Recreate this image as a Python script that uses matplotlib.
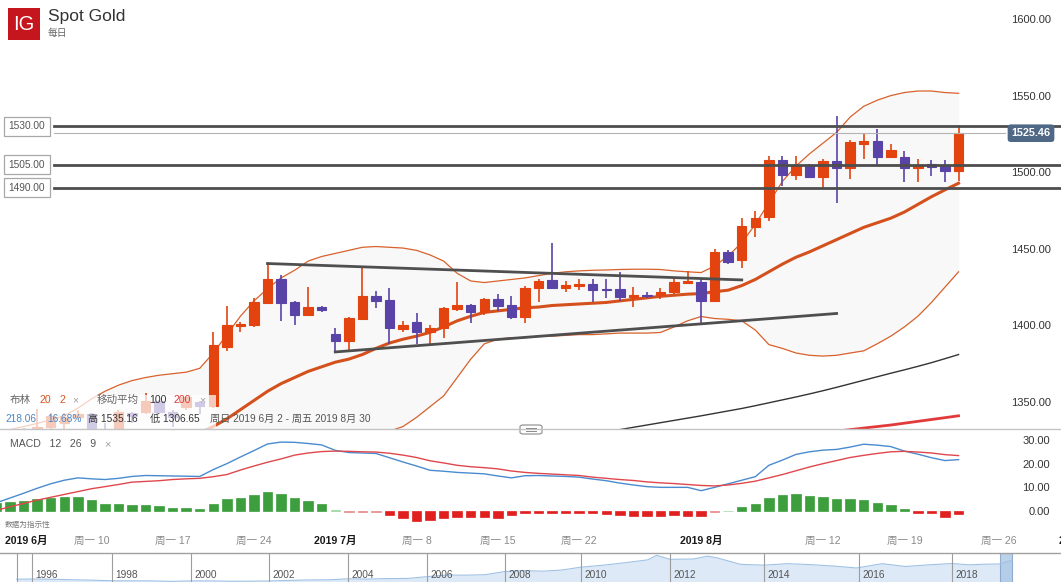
import numpy as np
import matplotlib
matplotlib.use('Agg')
import matplotlib.pyplot as plt
import matplotlib.transforms as mtransforms
from matplotlib.patches import Rectangle, FancyBboxPatch
from matplotlib.lines import Line2D

plt.rcParams['font.family'] = ['Liberation Sans', 'Noto Sans CJK SC', 'DejaVu Sans']

# ---- daily candles, 2 Jun 2019 (Sun) .. 23 Aug 2019 (Fri) ----
opens = [1305, 1306, 1327, 1325, 1334, 1336, 1340, 1342, 1329, 1327,
         1343, 1343.6, 1350.7, 1343.6, 1347, 1350, 1347.5, 1386, 1399.5, 1400.5,
         1414.5, 1430.6, 1415.4, 1406.7, 1412.3, 1394.3, 1390, 1404.5, 1418.9, 1416.4,
         1397.5, 1402, 1395.8, 1398.6, 1411, 1413.2, 1408.5, 1417.1, 1413.2, 1405.2,
         1424.7, 1429.5, 1424.7, 1425.8, 1427.3, 1424, 1423.6, 1418.6, 1419.7, 1420,
         1421.5, 1428, 1428.6, 1416, 1447.6, 1442.6, 1464.3, 1470.6, 1507.8, 1498,
         1505, 1497.2, 1507.2, 1503, 1518.7, 1520.4, 1510.2, 1510.2, 1503, 1505.2,
         1504.1, 1501.1]
highs = [1308, 1328, 1333, 1345.5, 1343, 1343, 1345, 1343, 1336, 1345,
         1343.5, 1356, 1351.5, 1345, 1354, 1351, 1396, 1412.5, 1402, 1418,
         1440.4, 1433, 1416, 1425.4, 1413, 1398.6, 1405.5, 1438.5, 1422.5, 1424.7,
         1403, 1408.4, 1400, 1412, 1428.4, 1414, 1418, 1420.4, 1418.9, 1425.5,
         1430, 1453.7, 1429, 1430.6, 1430.5, 1430.2, 1434.9, 1425.4, 1421.5, 1424.7,
         1431.2, 1435.6, 1431.2, 1449.7, 1449, 1470.4, 1474.7, 1510.6, 1510.6, 1510.6,
         1505.5, 1508.9, 1536.4, 1521, 1525.2, 1528.5, 1518.3, 1513.9, 1508.9, 1508,
         1507.8, 1530.7]
lows = [1303, 1305, 1320, 1322, 1328, 1331, 1338, 1323, 1322, 1326,
        1336, 1342, 1342, 1334, 1345, 1342, 1346, 1383, 1396, 1399,
        1414, 1403, 1400, 1406, 1409, 1382.7, 1384, 1404, 1411.7, 1387.7,
        1396, 1387.7, 1386.6, 1391.5, 1409.5, 1401.4, 1407, 1409.5, 1404.5, 1401.4,
        1415.6, 1424, 1421.5, 1423.2, 1415.4, 1417.6, 1416, 1412.3, 1417.6, 1417.1,
        1420.5, 1427.5, 1401.4, 1415, 1440, 1437.8, 1457.4, 1468, 1490.7, 1495,
        1495.9, 1488.9, 1480.2, 1495.4, 1508.9, 1504.6, 1510.2, 1493.7, 1493.7, 1497.6,
        1493.3, 1494.3]
closes = [1306, 1327, 1325, 1334, 1341, 1340, 1342, 1329, 1327, 1343.6,
          1341, 1351, 1343.6, 1340.4, 1353, 1347.5, 1387, 1400, 1401, 1415,
          1430.6, 1414.5, 1406.7, 1412.3, 1410, 1390, 1404.7, 1418.9, 1416, 1398,
          1400, 1395.4, 1398.6, 1411.2, 1413.2, 1408.8, 1417.5, 1412.7, 1405.2, 1424.7,
          1429, 1424.7, 1426.2, 1427.3, 1423.2, 1423.4, 1418.6, 1419.7, 1418.9, 1421.9,
          1428.6, 1429, 1416, 1447.6, 1441.5, 1464.6, 1470.4, 1507.8, 1498, 1505,
          1497.2, 1507.2, 1503, 1519.4, 1520.4, 1510.2, 1514.4, 1503, 1504.8, 1503.7,
          1501.1, 1525.46]

# Bollinger (20, 2)
boll_upper = [1330, 1332, 1334, 1336, 1338.5, 1341, 1346, 1352, 1357, 1361,
              1364, 1366, 1367.5, 1368.5, 1369.5, 1372, 1382, 1394, 1406, 1416,
              1424, 1431, 1436, 1442, 1445, 1447, 1449, 1451, 1451.5, 1451,
              1450.5, 1449, 1446, 1442, 1434, 1429, 1428, 1429, 1430, 1431,
              1432.5, 1434, 1435, 1435.6, 1436, 1436.2, 1436.5, 1436.7, 1436.7, 1436.5,
              1435.6, 1435, 1434.5, 1438.8, 1445.4, 1454, 1466, 1480, 1494, 1504,
              1512, 1519, 1526, 1536, 1543, 1547, 1550, 1552, 1553, 1553,
              1552, 1551.5]
boll_mid = [1292, 1293, 1294, 1295, 1297, 1299, 1302, 1305, 1308, 1311,
            1314, 1317, 1320, 1323, 1326, 1330, 1334, 1339, 1345, 1351,
            1357, 1362, 1366, 1370, 1373, 1376, 1378, 1381, 1385, 1388.5,
            1391, 1393, 1395.5, 1399, 1403, 1406, 1408.5, 1409.5, 1410.5, 1411.5,
            1412, 1413, 1413.5, 1414, 1414.5, 1415, 1416, 1417, 1418, 1419,
            1419.7, 1420.4, 1420.8, 1422, 1423, 1426, 1430, 1435, 1440, 1444.5,
            1448, 1452, 1456, 1460, 1464, 1467, 1470, 1474, 1479, 1484,
            1488.5, 1492.8]
boll_lower = [1270, 1272, 1274, 1276, 1277, 1279, 1281, 1283, 1285, 1288,
              1292, 1296, 1300, 1304, 1307, 1310, 1306, 1302, 1300, 1299,
              1300, 1303, 1307, 1311, 1316, 1320, 1324, 1327, 1329, 1331,
              1334, 1340, 1347, 1354, 1366, 1378, 1388, 1391, 1392, 1392,
              1393, 1393, 1393.5, 1394, 1394, 1394.5, 1395, 1395, 1395, 1395.4,
              1399, 1403, 1405.8, 1404.5, 1404, 1403, 1397, 1387.5, 1385, 1382,
              1380.5, 1380, 1380.5, 1382, 1383.4, 1388, 1393, 1399, 1406, 1415,
              1425, 1435]

# moving averages (only the part inside the price window)
ma100_start = 44
ma100 = [1329, 1330.5, 1332, 1333.5, 1335, 1336.5, 1338, 1339.5, 1341, 1342.6,
         1344.2, 1345.8, 1347.6, 1349.5, 1351.4, 1353.3, 1355.3, 1357.4, 1359.6, 1361.9,
         1364.2, 1366.5, 1368.8, 1371, 1373.3, 1375.7, 1378.3, 1381]
ma200_start = 60
ma200 = [1329, 1330, 1331, 1332, 1333, 1334, 1335, 1336.2, 1337.4, 1338.6, 1339.8, 1341]

# hand drawn trend lines (candle index, price)
trend_upper_x = [20, 55]
trend_upper_y = [1440.4, 1429.7]
trend_lower_x = [25, 62]
trend_lower_y = [1382.7, 1407.8]

levels = [1530, 1505, 1490]
last_price = 1525.46
price_ticks = [1350, 1400, 1450, 1500, 1550, 1600]

# MACD (12, 26, 9)
macd_line = [3.5, 5.5, 7.5, 9.6, 11.5, 13.0, 14.0, 13.6, 13.3, 13.8,
             14.6, 15.0, 14.9, 14.8, 14.7, 14.6, 17.5, 20.0, 22.8, 25.5,
             28.3, 29.1, 29.0, 28.5, 27.9, 25.6, 24.7, 24.5, 24.3, 22.5,
             20.7, 19.0, 17.2, 16.8, 16.3, 16.0, 15.7, 14.8, 14.0, 14.9,
             15.0, 14.8, 14.6, 14.3, 13.5, 12.8, 11.8, 11.0, 10.3, 10.0,
             10.0, 10.0, 8.6, 10.0, 11.5, 13.0, 14.5, 19.3, 21.5, 23.9,
             25.0, 25.7, 26.0, 27.0, 28.2, 27.8, 27.2, 25.3, 24.0, 22.5,
             21.3, 21.7]
signal_line = [0.3, 1.8, 3.2, 4.6, 5.8, 7.0, 8.2, 9.4, 10.3, 11.2,
               12.2, 12.5, 12.8, 13.3, 13.6, 13.8, 14.5, 15.4, 17.3, 19.0,
               20.6, 22.0, 23.6, 24.5, 25.1, 25.3, 25.2, 25.0, 24.9, 24.4,
               23.6, 22.6, 21.2, 20.3, 19.3, 18.7, 18.3, 17.8, 16.9, 16.3,
               15.9, 15.6, 15.3, 15.0, 14.3, 13.8, 13.3, 12.9, 12.3, 11.9,
               11.6, 11.2, 10.8, 10.6, 11.0, 11.7, 12.6, 14.0, 15.4, 17.0,
               18.6, 20.0, 21.3, 22.6, 23.5, 24.3, 25.0, 25.2, 24.9, 24.5,
               23.8, 23.4]
macd_hist = [3.3, 3.7, 4.4, 5.0, 5.7, 6.1, 5.9, 4.6, 3.1, 2.9,
             2.4, 2.7, 2.1, 1.4, 1.1, 0.9, 3.0, 4.9, 5.7, 6.9,
             7.9, 7.1, 5.3, 4.1, 2.9, 0.5, -0.6, -0.6, -0.6, -1.8,
             -2.9, -4.2, -3.6, -3.1, -2.7, -2.7, -2.7, -2.9, -1.7, -1.0,
             -0.7, -0.7, -0.7, -0.7, -0.8, -1.1, -1.7, -2.0, -2.1, -2.0,
             -1.7, -2.0, -2.1, -0.5, 0.2, 1.6, 3.0, 5.7, 6.6, 7.1,
             6.4, 6.0, 5.1, 5.1, 4.7, 3.6, 2.6, 0.7, -0.7, -0.7,
             -2.4, -1.4]
macd_ticks = [0, 10, 20, 30]

# date axis (candle index of each label)
date_labels = ['周一 10', '周一 17', '周一 24', '2019 7月', '周一 8', '周一 15',
               '周一 22', '2019 8月', '周一 12', '周一 19', '周一 26', '2019 9月']
date_pos = [7, 13, 19, 25, 31, 37, 43, 52, 61, 67, 74, 80]
first_date_label = '2019 6月'

# navigator: long history of the price
nav_years = [1995.75, 1996.0, 1996.5, 1997.0, 1997.5, 1998.0, 1998.5, 1999.0, 1999.5, 2000.0,
             2000.5, 2001.0, 2001.5, 2002.0, 2002.5, 2003.0, 2003.5, 2004.0, 2004.5, 2005.0,
             2005.5, 2006.0, 2006.5, 2007.0, 2007.5, 2008.0, 2008.5, 2009.0, 2009.5, 2010.0,
             2010.5, 2011.0, 2011.5, 2011.7, 2012.0, 2012.5, 2012.8, 2013.0, 2013.5, 2014.0,
             2014.5, 2015.0, 2015.5, 2015.95, 2016.5, 2017.0, 2017.5, 2018.0, 2018.5, 2019.0,
             2019.42, 2019.65]
nav_prices = [385, 400, 385, 355, 330, 295, 290, 285, 260, 285,
              285, 265, 270, 280, 315, 345, 350, 410, 395, 425,
              435, 540, 640, 630, 660, 850, 900, 870, 940, 1110,
              1230, 1380, 1550, 1820, 1580, 1600, 1770, 1670, 1280, 1230,
              1320, 1260, 1170, 1060, 1320, 1150, 1250, 1330, 1250, 1290,
              1300, 1525]
nav_label_years = [1996, 1998, 2000, 2002, 2004, 2006, 2008, 2010, 2012, 2014, 2016, 2018]

# ---- layout (pixels) ----
W, H = 1061, 582
STEP = 13.55      # px per candle
X0 = -3.5         # px of first candle
ORANGE = '#e2430f'
PURPLE = '#5a43a6'

fig = plt.figure(figsize=(W / 100, H / 100), dpi=100, facecolor='white')


def px_axes(x0, y0, x1, y1):
    return fig.add_axes([x0 / W, 1 - y1 / H, (x1 - x0) / W, (y1 - y0) / H])


xlim = ((0 - X0) / STEP, (W - X0) / STEP)

# ---------------- price panel ----------------
ax = px_axes(0, 0, W, 429)
ax.set_xlim(*xlim)
ax.set_ylim(1332.4, 1612.4)
for s in ax.spines.values():
    s.set_visible(False)
ax.set_xticks([])

idx = np.arange(len(opens))
o = np.array(opens)
c = np.array(closes)
cols = np.where(c >= o, ORANGE, PURPLE)

ax.fill_between(idx, boll_lower, boll_upper, color='#f8f8f8', lw=0, zorder=0)
ax.plot(idx, boll_upper, color='#d8612c', lw=0.9, zorder=2)
ax.plot(idx, boll_lower, color='#d8612c', lw=0.9, zorder=2)
ax.plot(idx, boll_mid, color='#d4501c', lw=2.2, zorder=2)
ax.plot(np.arange(ma100_start, ma100_start + len(ma100)), ma100, color='#333333', lw=1, zorder=2)
ax.plot(np.arange(ma200_start, ma200_start + len(ma200)), ma200, color='#e23a3a', lw=2, zorder=2)

ax.vlines(idx, lows, highs, colors=cols, lw=1.2, zorder=3)
ax.bar(idx, np.abs(c - o), bottom=np.minimum(o, c), width=0.7, color=cols,
       edgecolor=cols, lw=0.8, zorder=4)

ax.plot(trend_upper_x, trend_upper_y, color='#4f4f4f', lw=2, zorder=5)
ax.plot(trend_lower_x, trend_lower_y, color='#4f4f4f', lw=2, zorder=5)

bl = mtransforms.blended_transform_factory(ax.transAxes, ax.transData)
for lv in levels:
    ax.axhline(lv, xmin=54 / W, xmax=1, color='#4d4d4d', lw=2, zorder=6)
    ax.text(27 / W, lv, f'{lv:.2f}', transform=bl, ha='center', va='center',
            fontsize=7.3, color='#555555', zorder=7,
            bbox=dict(boxstyle='square,pad=0.42', fc='white', ec='#a8a8a8', lw=0.9))
ax.axhline(last_price, xmin=54 / W, xmax=1005 / W, color='#b4b4b4', lw=0.8, zorder=5)
ax.text(1031 / W, last_price, f'{last_price:.2f}', transform=bl, ha='center', va='center',
        fontsize=7.8, color='white', weight='bold', zorder=8,
        bbox=dict(boxstyle='round,pad=0.35,rounding_size=0.3', fc='#4f6886', ec='none'))

ax.yaxis.tick_right()
ax.set_yticks(price_ticks)
ax.set_yticklabels([f'{v:.2f}' for v in price_ticks])
ax.tick_params(axis='y', length=0, pad=-7.2, labelsize=8, labelcolor='#333333')
for lab in ax.get_yticklabels():
    lab.set_horizontalalignment('right')

# ---------------- MACD panel ----------------
axm = px_axes(0, 430, W, 530)
axm.set_xlim(*xlim)
axm.set_ylim(-8.0, 34.2)
for s in axm.spines.values():
    s.set_visible(False)
axm.set_xticks([])
h = np.array(macd_hist)
hcols = np.where(h >= 0, np.where(np.abs(h) < 0.65, '#9fd49f', '#3c9e3c'),
                 np.where(np.abs(h) < 0.65, '#e88a8a', '#e0201e'))
axm.bar(idx, h, width=0.7, color=hcols, edgecolor=hcols, lw=0.5, zorder=2)
axm.plot(idx, macd_line, color='#4a8bcf', lw=1, zorder=3)
axm.plot(idx, signal_line, color='#e0474c', lw=1, zorder=3)
axm.yaxis.tick_right()
axm.set_yticks(macd_ticks)
axm.set_yticklabels([f'{v:.2f}' for v in macd_ticks])
axm.tick_params(axis='y', length=0, pad=-7.9, labelsize=8, labelcolor='#333333')
for lab in axm.get_yticklabels():
    lab.set_horizontalalignment('right')

# date labels
dt = mtransforms.blended_transform_factory(axm.transData, fig.transFigure)
for lab, p in zip(date_labels, date_pos):
    month = '月' in lab
    axm.text(p, 1 - 541 / H, lab, transform=dt, ha='center', va='center',
             fontsize=7.6, color='#1a1a1a' if month else '#8a8a8a',
             weight='bold' if month else 'normal', clip_on=False)
fig.text(5 / W, 1 - 541 / H, first_date_label, ha='left', va='center', fontsize=7.6,
         color='#1a1a1a', weight='bold')

# ---------------- navigator ----------------
axn = px_axes(0, 553, W, 582)
axn.set_xlim(0, W)
axn.set_ylim(220, 1960)
axn.set_xticks([])
axn.set_yticks([])
for s in axn.spines.values():
    s.set_visible(False)
nav_tick_years = [1995.75] + nav_label_years + [2019.42, 2019.65]
nav_tick_px = [16.7, 32, 112, 191, 269, 348, 427, 505, 581, 670, 764, 859, 952, 1000, 1012]
nx = np.interp(nav_years, nav_tick_years, nav_tick_px)
axn.fill_between(nx, 220, nav_prices, color='#dde9f6', lw=0)
axn.plot(nx, nav_prices, color='#9fc2e4', lw=0.8)
nt = mtransforms.blended_transform_factory(axn.transData, axn.transAxes)
axn.vlines(nav_tick_px[:-2], 0, 1, transform=nt, color='#9c9c9c', lw=0.8)
for yr, p in zip(nav_label_years, nav_tick_px[1:-2]):
    axn.text(p + 3, 0.24, str(yr), transform=nt, ha='left', va='center',
             fontsize=7.3, color='#555555')
axn.add_patch(Rectangle((nav_tick_px[-2], 0), nav_tick_px[-1] - nav_tick_px[-2], 1,
                        transform=nt, fc='#aac7e6', ec='#7f9fc4', lw=0.8, alpha=0.8))
fig.add_artist(Line2D([0, 1], [1 - 553 / H] * 2, transform=fig.transFigure,
                      color='#a0a0a0', lw=1))

# ---------------- decorations ----------------
fig.add_artist(Line2D([0, 1], [1 - 429 / H] * 2, transform=fig.transFigure,
                      color='#c4c4c4', lw=1))
fig.add_artist(FancyBboxPatch((520 / W, 1 - 434 / H), 22 / W, 9 / H,
                              boxstyle='round,pad=0,rounding_size=0.003',
                              transform=fig.transFigure, fc='white', ec='#8a8a8a', lw=0.8))
for yy in (427.5, 430.5):
    fig.add_artist(Line2D([526 / W, 536 / W], [1 - yy / H] * 2, transform=fig.transFigure,
                          color='#8a8a8a', lw=0.7))

# legend overlay that fades the candles under it
fig.add_artist(Rectangle((0, 1 - 429 / H), 216 / W, 34 / H, transform=fig.transFigure,
                         fc='white', ec='none', alpha=0.72))

# title block
fig.add_artist(Rectangle((8 / W, 1 - 40 / H), 32 / W, 32 / H, transform=fig.transFigure,
                         fc='#c4161c', ec='none'))
fig.text(24 / W, 1 - 24.5 / H, 'IG', ha='center', va='center', fontsize=14.5, color='white')
fig.text(48 / W, 1 - 17 / H, 'Spot Gold', ha='left', va='center', fontsize=12.5, color='#333333')
fig.text(48 / W, 1 - 33 / H, '每日', ha='left', va='center', fontsize=7, color='#666666')

# legend rows
row1 = [('布林', 10, '#666666'), ('20', 39, '#d9531e'), ('2', 59, '#d9531e'), ('×', 72, '#a0a0a0'),
        ('移动平均', 97, '#666666'), ('100', 149, '#333333'), ('200', 174, '#e03a3a'),
        ('×', 199, '#a0a0a0')]
for txt, xp, col in row1:
    fig.text(xp / W, 1 - 400 / H, txt, ha='left', va='center', fontsize=7.6, color=col)
row2 = [('218.06', 5, '#4a86c5'), ('16.68%', 47, '#4a86c5'), ('高 1535.16', 88, '#333333'),
        ('低 1306.65', 150, '#333333'), ('周日 2019 6月 2 - 周五 2019 8月 30', 210, '#555555')]
for txt, xp, col in row2:
    fig.text(xp / W, 1 - 419 / H, txt, ha='left', va='center', fontsize=7.3, color=col)

fig.text(10 / W, 1 - 444 / H, 'MACD   12   26   9', ha='left', va='center', fontsize=7.6,
         color='#555555')
fig.text(104 / W, 1 - 444 / H, '×', ha='left', va='center', fontsize=8, color='#a0a0a0')
fig.text(5 / W, 1 - 525 / H, '数据为指示性', ha='left', va='center', fontsize=5.5,
         color='#777777')

fig.savefig('out.png', dpi=100, facecolor='white')
